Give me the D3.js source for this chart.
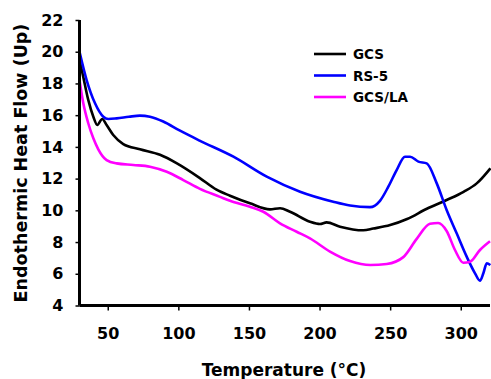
<!DOCTYPE html>
<html><head><meta charset="utf-8">
<script src="https://cdn.jsdelivr.net/npm/d3@7"></script>
<style>
html,body{margin:0;padding:0;background:#fff;}
svg{display:block;}
text{font-family:"DejaVu Sans",Verdana,sans-serif;font-weight:bold;fill:#000;}
</style></head>
<body>
<svg id="chart" width="491" height="379"></svg>
<script>
const seriesNames = ["GCS", "RS-5", "GCS/LA"];
const seriesColors = ["#000000", "#0000ff", "#ff00ff"];

const gcsT = [30, 32.7, 36.2, 39.8, 42.6, 46.1, 49.2, 53.9, 61, 72.8, 87, 99, 115, 127, 136.6, 150.7, 164.9, 172, 179.1, 193.2, 200.3, 205, 214.5, 231, 238, 250, 262, 276, 290, 302, 311.3, 321];
const gcsV = [19.5, 18.4, 16.96, 15.9, 15.38, 15.76, 15.38, 14.75, 14.18, 13.85, 13.5, 12.96, 12.05, 11.3, 10.92, 10.44, 10.06, 10.13, 9.91, 9.28, 9.14, 9.24, 8.97, 8.74, 8.85, 9.07, 9.45, 10.1, 10.65, 11.17, 11.7, 12.65];

const rsT = [30, 35.1, 41, 46.9, 50.4, 56.3, 65, 72.8, 79.9, 89.3, 101.2, 115, 139, 162.6, 186.2, 209.7, 221.6, 235.7, 242.8, 248.7, 254.6, 260.5, 264.1, 270, 275.9, 283, 290, 297.1, 304.2, 310.1, 313.6, 316, 318.4, 321];
const rsV = [20.0, 18.2, 16.75, 15.9, 15.76, 15.8, 15.9, 15.97, 15.9, 15.6, 15.02, 14.4, 13.38, 12.12, 11.17, 10.54, 10.3, 10.2, 10.6, 11.49, 12.54, 13.38, 13.38, 13.07, 12.96, 11.7, 10.02, 8.55, 7.08, 6.03, 5.56, 6.03, 6.66, 6.55];

const laT = [30, 32.7, 36.2, 39.8, 43.3, 49.2, 56.3, 68.1, 79.9, 91.8, 103.5, 115.3, 129.5, 136.6, 150.7, 160.2, 172, 183.8, 193.2, 207.4, 221.6, 236, 247.6, 259.3, 268.8, 278.2, 284, 290, 295.9, 301.8, 306.6, 313.6, 320.7];
const laV = [18.2, 16.75, 15.49, 14.54, 13.85, 13.17, 12.96, 12.86, 12.75, 12.43, 11.91, 11.35, 10.85, 10.6, 10.23, 9.91, 9.18, 8.65, 8.23, 7.4, 6.8, 6.55, 6.62, 7.05, 8.2, 9.15, 9.2, 8.7, 7.5, 6.7, 6.76, 7.5, 8.05];

const xTicks = [50, 100, 150, 200, 250, 300];
const yTicks = [4, 6, 8, 10, 12, 14, 16, 18, 20, 22];

const seriesT = [gcsT, rsT, laT];
const seriesV = [gcsV, rsV, laV];

const svg = d3.select("#chart");
const x = d3.scaleLinear().domain([30, 320]).range([79.5, 489]);
const y = d3.scaleLinear().domain([4, 22]).range([305.5, 20]);

// lines
const line = d3.line().x(d => x(d[0])).y(d => y(d[1])).curve(d3.curveMonotoneX);
seriesNames.forEach((name, i) => {
  const pts = seriesT[i].map((t, j) => [t, seriesV[i][j]]);
  svg.append("path").datum(pts)
    .attr("d", line)
    .attr("fill", "none")
    .attr("stroke", seriesColors[i])
    .attr("stroke-width", 2.6)
    .attr("stroke-linejoin", "round");
});

// axes
const yAxis = svg.append("g").attr("transform", `translate(${x(30)},0)`)
  .call(d3.axisLeft(y).tickValues(yTicks).tickSize(4).tickSizeOuter(0).tickPadding(12).tickFormat(d3.format("d")));
const xAxis = svg.append("g").attr("transform", `translate(0,${y(4)})`)
  .call(d3.axisBottom(x).tickValues(xTicks).tickSize(5).tickSizeOuter(0).tickPadding(17).tickFormat(d3.format("d")));
[xAxis, yAxis].forEach(a => {
  a.select(".domain").attr("stroke", "#000").attr("stroke-width", 3);
  a.selectAll(".tick line").attr("stroke", "#000").attr("stroke-width", 1.5);
  a.selectAll("text").attr("font-family", null).attr("font-size", null)
    .style("font-family", '"DejaVu Sans", Verdana, sans-serif').style("font-weight", "bold").style("font-size", "16px");
});
xAxis.select(".domain").attr("d", `M${x(30)},0H490`);
yAxis.select(".domain").attr("d", `M0,${y(4)}V${y(22)}`);

// axis titles
svg.append("text").attr("x", 284).attr("y", 376).attr("text-anchor", "middle")
  .style("font-size", "17px").text("Temperature (°C)");
svg.append("text").attr("transform", `translate(27,163) rotate(-90)`).attr("text-anchor", "middle")
  .style("font-size", "17.5px").text("Endothermic Heat Flow (Up)");

// legend
const legend = svg.append("g");
seriesNames.forEach((name, i) => {
  const ly = 54 + i * 21.5;
  legend.append("line").attr("x1", 314).attr("x2", 346).attr("y1", ly).attr("y2", ly)
    .attr("stroke", seriesColors[i]).attr("stroke-width", 2.6);
  legend.append("text").attr("x", 353).attr("y", ly + 5).style("font-size", "13.5px").text(name);
});
</script>
</body></html>
